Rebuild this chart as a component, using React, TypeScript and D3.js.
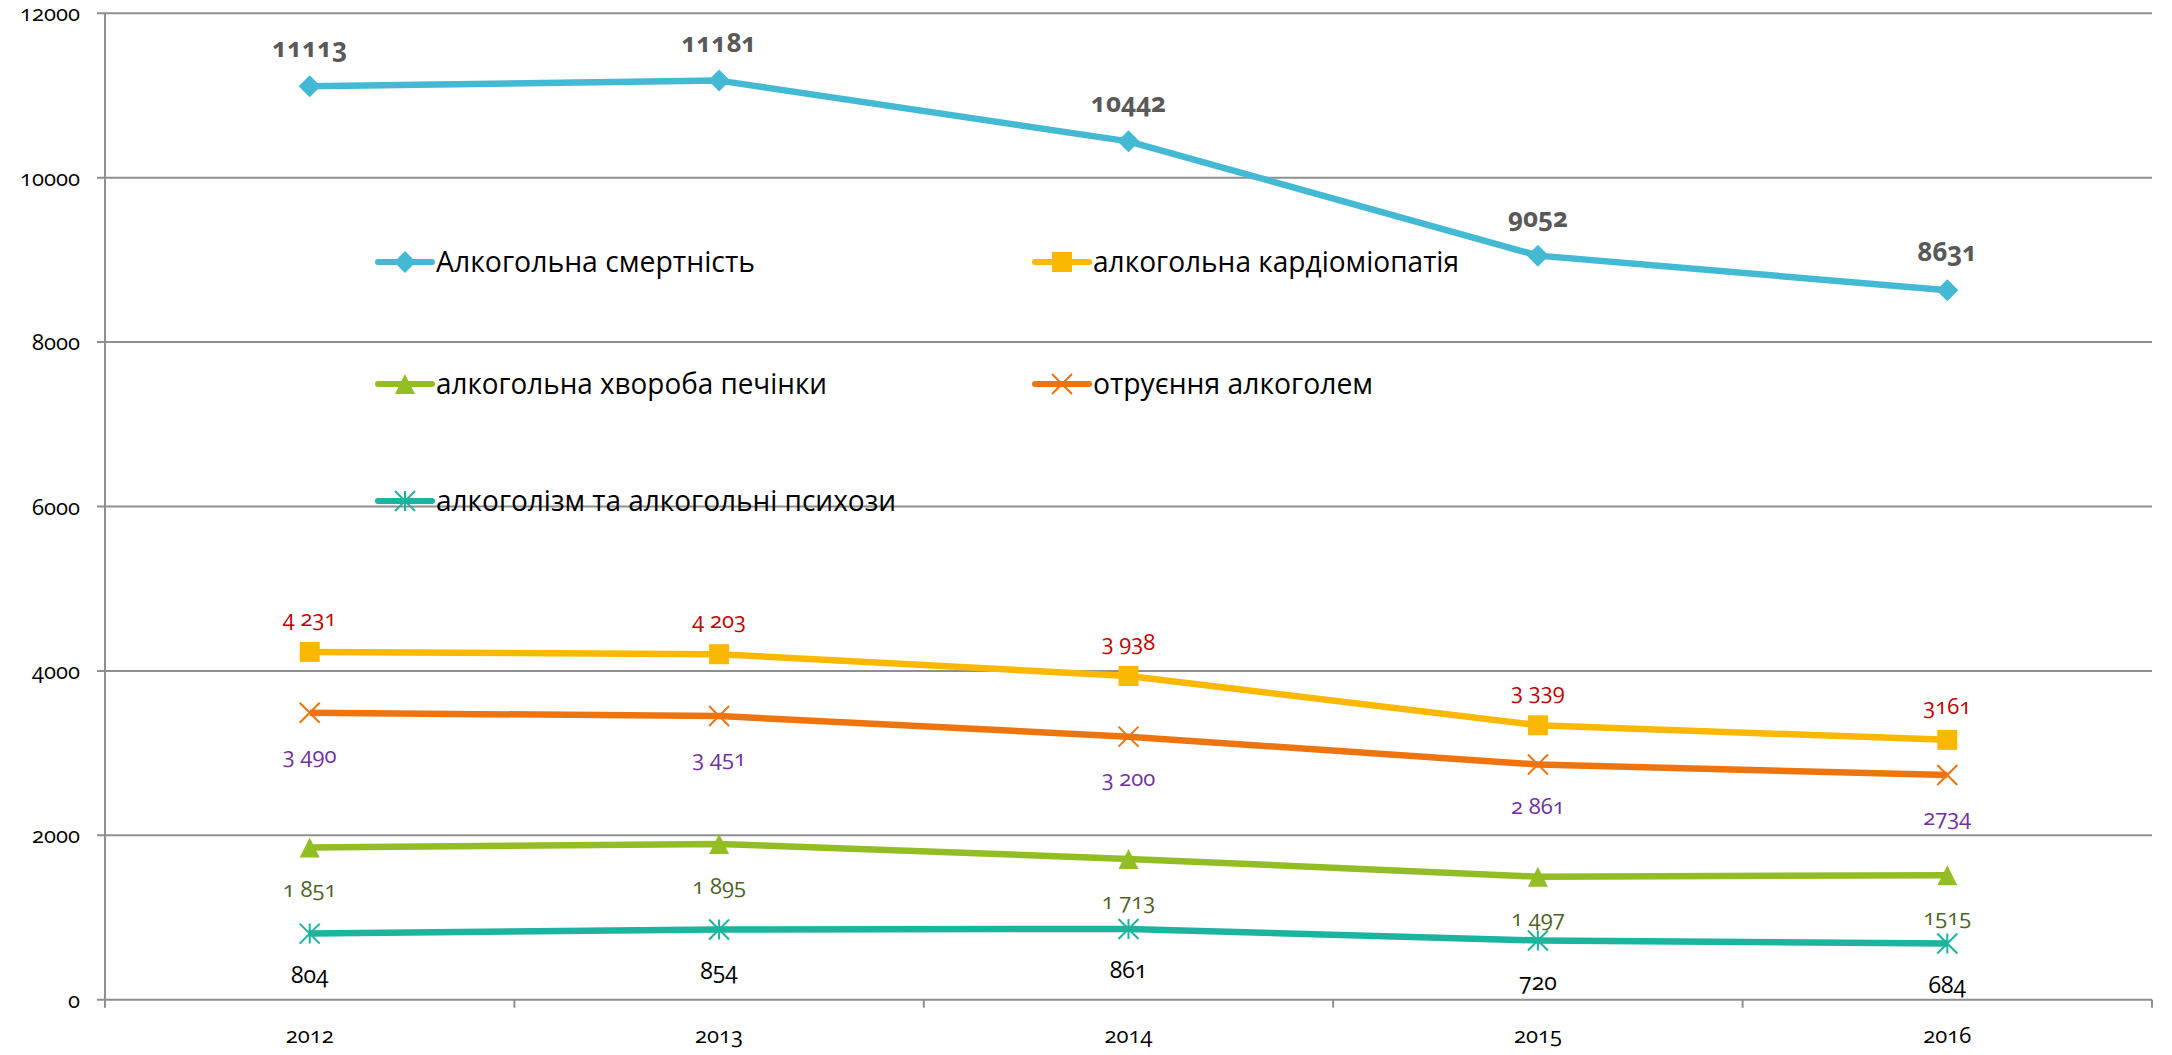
import React from "react";
import { scaleBand, scaleLinear, line } from "d3";

const years = ["2012", "2013", "2014", "2015", "2016"];
const yTicks = [0, 2000, 4000, 6000, 8000, 10000, 12000];

const mortality = [11113, 11181, 10442, 9052, 8631];
const cardio = [4231, 4203, 3938, 3339, 3161];
const poisoning = [3490, 3451, 3200, 2861, 2734];
const liver = [1851, 1895, 1713, 1497, 1515];
const psychoses = [804, 854, 861, 720, 684];

const mortalityLabels = ["11113", "11181", "10442", "9052", "8631"];
const cardioLabels = ["4 231", "4 203", "3 938", "3 339", "3161"];
const poisoningLabels = ["3 490", "3 451", "3 200", "2 861", "2734"];
const liverLabels = ["1 851", "1 895", "1 713", "1 497", "1515"];
const psychosesLabels = ["804", "854", "861", "720", "684"];

const seriesNames = [
  "Алкогольна смертність",
  "алкогольна кардіоміопатія",
  "алкогольна хвороба печінки",
  "отруєння алкоголем",
  "алкоголізм та алкогольні психози",
];

type Marker = "diamond" | "square" | "triangle" | "x" | "star";

const series = [
  { name: seriesNames[0], values: mortality, labels: mortalityLabels, color: "#43B9D4", marker: "diamond" as Marker, labelColor: "#595959", labelDy: -38, bold: true, labelSize: 26 },
  { name: seriesNames[1], values: cardio, labels: cardioLabels, color: "#FBB800", marker: "square" as Marker, labelColor: "#C00000", labelDy: -34, bold: false, labelSize: 22 },
  { name: seriesNames[2], values: liver, labels: liverLabels, color: "#93BD25", marker: "triangle" as Marker, labelColor: "#4F6228", labelDy: 42, bold: false, labelSize: 22 },
  { name: seriesNames[3], values: poisoning, labels: poisoningLabels, color: "#EE740F", marker: "x" as Marker, labelColor: "#7030A0", labelDy: 42, bold: false, labelSize: 22 },
  { name: seriesNames[4], values: psychoses, labels: psychosesLabels, color: "#1CB49E", marker: "star" as Marker, labelColor: "#000000", labelDy: 41, bold: false, labelSize: 23 },
];

// legend placement: line start x, row y, text length
const legendLayout = [
  { x: 378, y: 262, tl: 319 },
  { x: 1035, y: 262, tl: 366 },
  { x: 378, y: 384, tl: 391 },
  { x: 1035, y: 384, tl: 280 },
  { x: 378, y: 501, tl: 460 },
];

const W = 2172;
const H = 1055;
const left = 105;
const right = 2152;
const top = 13.3;
const bottom = 999.7;
const gridColor = "#8F8F8F";
const numFont = "'Open Sans', 'Noto Sans', sans-serif";

function MarkerShape({ type, color, cx, cy }: { type: Marker; color: string; cx: number; cy: number }) {
  const r = 10;
  if (type === "diamond")
    return <path d={`M${cx},${cy - r - 1}L${cx + r + 1},${cy}L${cx},${cy + r + 1}L${cx - r - 1},${cy}Z`} fill={color} />;
  if (type === "square")
    return <rect x={cx - r} y={cy - r} width={2 * r} height={2 * r} fill={color} />;
  if (type === "triangle")
    return <path d={`M${cx},${cy - r}L${cx + r},${cy + r}L${cx - r},${cy + r}Z`} fill={color} />;
  if (type === "x")
    return (
      <path
        d={`M${cx - r},${cy - r}L${cx + r},${cy + r}M${cx - r},${cy + r}L${cx + r},${cy - r}`}
        stroke={color}
        strokeWidth={2}
        fill="none"
      />
    );
  return (
    <path
      d={`M${cx - r},${cy - r}L${cx + r},${cy + r}M${cx - r},${cy + r}L${cx + r},${cy - r}M${cx},${cy - r}L${cx},${cy + r}`}
      stroke={color}
      strokeWidth={2}
      fill="none"
    />
  );
}

export default function App() {
  const x = scaleBand().domain(years).range([left, right]).padding(0);
  const y = scaleLinear().domain([0, 12000]).range([bottom, top]);
  const cx = (i: number) => x(years[i])! + x.bandwidth() / 2;

  const path = line<number>()
    .x((_, i) => cx(i))
    .y((d) => y(d));

  const bandEdges = [...years.map((yr) => x(yr)!), right];

  return (
    <div style={{ position: "absolute", left: 0, top: 0, background: "#fff" }}>
      <svg width={W} height={H} viewBox={`0 0 ${W} ${H}`} style={{ display: "block" }}>
        <rect width={W} height={H} fill="#fff" />

        {/* grid + y axis */}
        {yTicks.map((t) => (
          <g key={t}>
            <line x1={left - 8} x2={right} y1={y(t)} y2={y(t)} stroke={gridColor} strokeWidth={2} />
            <text
              x={80}
              y={y(t) + 8}
              textAnchor="end"
              fontSize={22}
              fontFamily={numFont}
              fill="#000"
              style={{ fontVariantNumeric: "oldstyle-nums" }}
            >
              {t}
            </text>
          </g>
        ))}
        <line x1={left} x2={left} y1={top} y2={bottom} stroke={gridColor} strokeWidth={2} />

        {/* x axis ticks + labels */}
        {bandEdges.map((e, i) => (
          <line key={i} x1={e} x2={e} y1={bottom} y2={bottom + 8} stroke={gridColor} strokeWidth={2} />
        ))}
        {years.map((yr, i) => (
          <text
            key={yr}
            x={cx(i)}
            y={1043}
            textAnchor="middle"
            fontSize={22}
            fontFamily={numFont}
            fill="#000"
            style={{ fontVariantNumeric: "oldstyle-nums" }}
          >
            {yr}
          </text>
        ))}

        {/* lines */}
        {series.map((s) => (
          <path key={s.name} d={path(s.values)!} fill="none" stroke={s.color} strokeWidth={6.5} strokeLinejoin="round" />
        ))}

        {/* markers */}
        {series.map((s) =>
          s.values.map((v, i) => (
            <MarkerShape key={s.name + i} type={s.marker} color={s.color} cx={cx(i)} cy={y(v)} />
          ))
        )}

        {/* data labels */}
        {series.map((s) =>
          s.values.map((v, i) => (
            <text
              key={s.name + "l" + i}
              x={cx(i)}
              y={y(v) + s.labelDy}
              dy="0.35em"
              textAnchor="middle"
              fontSize={s.labelSize}
              fontWeight={s.bold ? 700 : 400}
              fontFamily={numFont}
              fill={s.labelColor}
              style={{ fontVariantNumeric: "oldstyle-nums" }}
            >
              {s.labels[i]}
            </text>
          ))
        )}

        {/* legend */}
        {series.map((s, i) => {
          const L = legendLayout[i];
          return (
            <g key={"lg" + i} transform={`translate(${L.x},${L.y})`}>
              <line x1={0} x2={54} y1={0} y2={0} stroke={s.color} strokeWidth={6} strokeLinecap="round" />
              <MarkerShape type={s.marker} color={s.color} cx={27} cy={0} />
              <text
                x={58}
                y={10}
                fontSize={30}
                fontFamily="'Open Sans', 'Noto Sans', sans-serif"
                fill="#000"
                textLength={L.tl}
                lengthAdjust="spacingAndGlyphs"
              >
                {s.name}
              </text>
            </g>
          );
        })}
      </svg>
    </div>
  );
}
